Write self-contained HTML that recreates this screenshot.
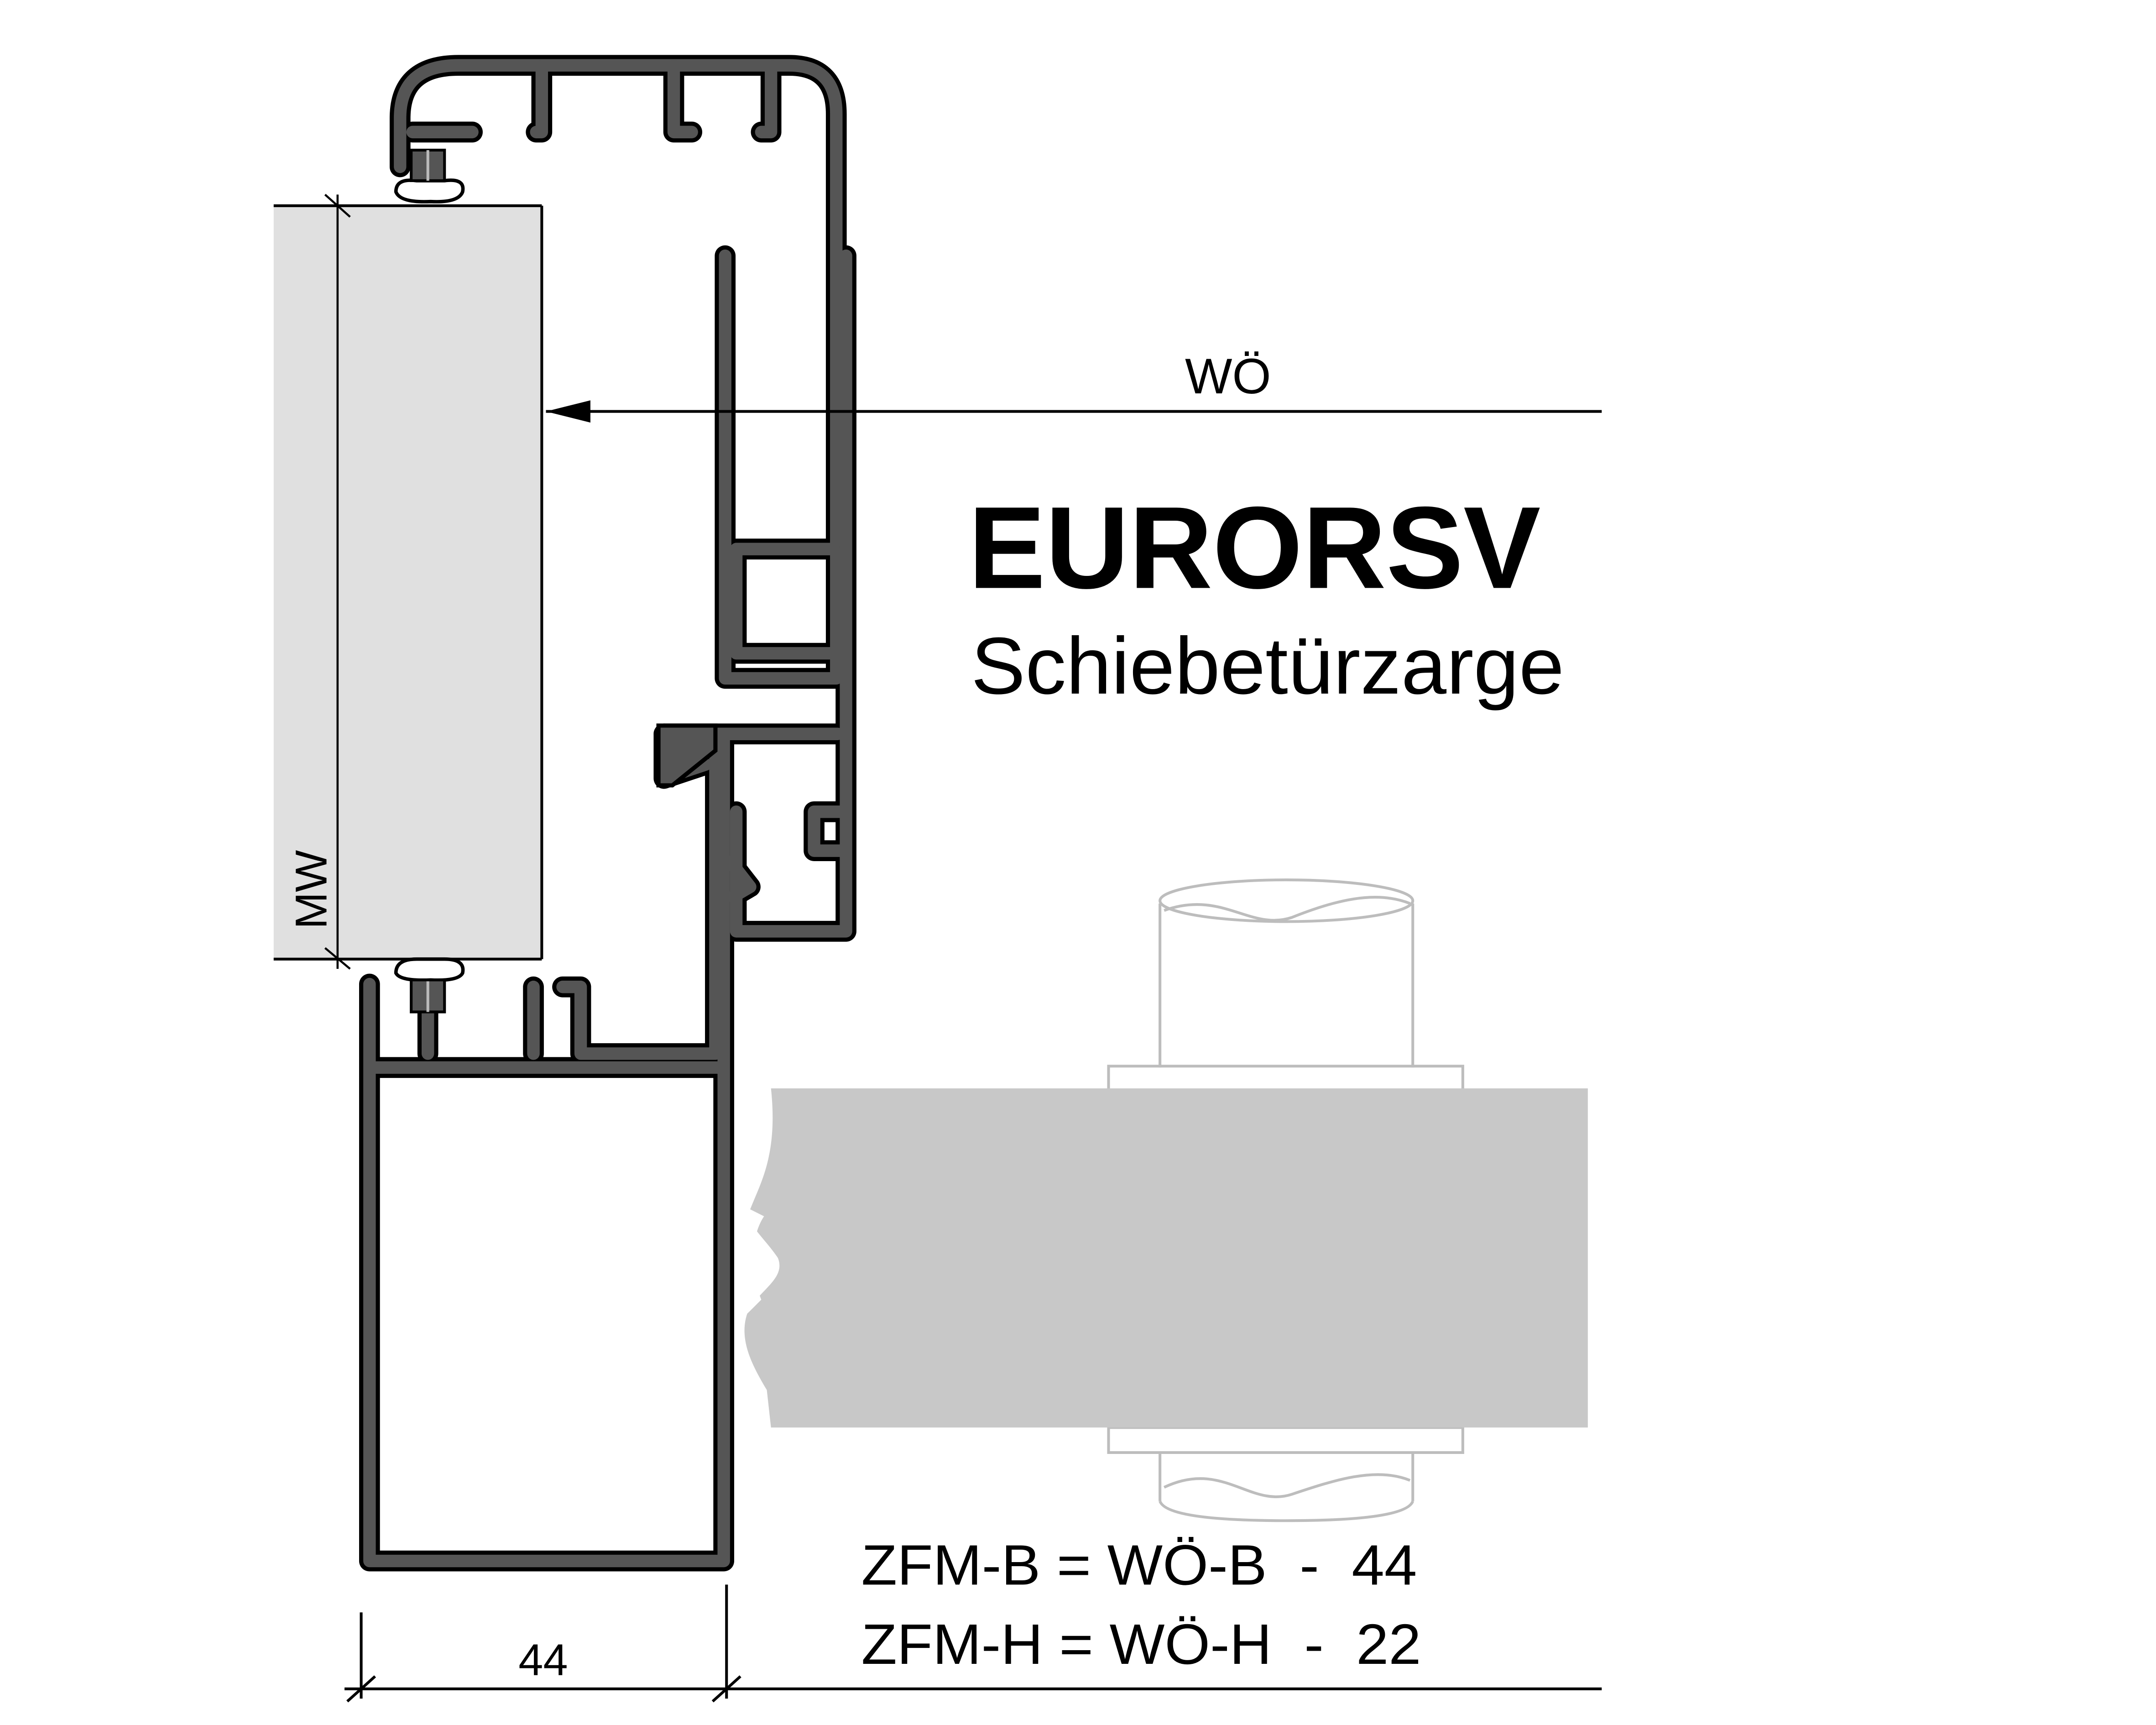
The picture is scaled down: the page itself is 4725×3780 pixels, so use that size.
<!DOCTYPE html>
<html><head><meta charset="utf-8"><style>
html,body{margin:0;padding:0;background:#fff;}
svg{display:block;}
text{font-family:"Liberation Sans",sans-serif;fill:#000;white-space:pre;}
</style></head><body>
<svg width="4725" height="3780" viewBox="0 0 1552 1241" preserveAspectRatio="none">
<rect width="1552" height="1241" fill="#fff"/>
<g fill="none" stroke="#bdbdbd" stroke-width="2">
<path d="M835,650 L835,768 M1017,650 L1017,768"/>
<ellipse cx="926" cy="648" rx="91" ry="15"/>
<path d="M838,655 C880,640 900,670 930,660 C960,648 990,640 1015,650"/>
<rect x="798" y="767" width="255" height="17"/>
<rect x="798" y="1027" width="255" height="18"/>
<path d="M835,1045 L835,1080 M1017,1045 L1017,1080"/>
<path d="M835,1080 Q840,1094 926,1094 Q1012,1094 1017,1080"/>
<path d="M838,1070 C880,1050 900,1085 930,1075 C960,1065 990,1055 1015,1065"/>
</g>
<path d="M555,783 L1143,783 L1143,1027 L555,1027 L552,1000 C540,980 530,960 540,940 C552,925 565,918 560,905 C550,890 536,880 540,870 C548,850 560,830 555,783 Z" fill="#c8c8c8"/>
<path d="M540,870 C528,880 525,930 538,945 L548,935 C540,915 540,890 550,875 Z" fill="#fff"/>
<rect x="197" y="148" width="193" height="542" fill="#e0e0e0"/>
<path d="M390,148 L390,690 M197,148 L390,148 M197,690 L390,690" stroke="#000" stroke-width="2" fill="none"/>
<path d="M243,140 L243,697 M234,140 L252,156 M234,682 L252,697" stroke="#000" stroke-width="1.5" fill="none"/>
<text x="235" y="640" font-size="32" transform="rotate(-90 235 640)" text-anchor="middle">MW</text>
<defs>
<path id="p1" d="M288,120 L288,85 Q288,47 330,47 L568,47 Q602,47 602,82 L602,488 L522,488 L522,184"/>
<path id="p2" d="M609,184 L609,670 L530,670 L530,584 M609,584 L586,584 L586,612 L609,612"/>
<path id="p3" d="M297,95 L340,95 M390,48 L390,95 L386,95 M485,48 L485,95 L498,95 M555,48 L555,95 L548,95"/>
<path id="p4" d="M478,528 L603,528 M515,528 L515,758 L418,758 L418,710 L405,710 M266,708 L266,1123 L521,1123 L521,528 M266,768 L521,768 M384,710 L384,758 M308,758 L308,712"/>
<path id="p5" d="M530,395 L530,470 L600,470 M530,395 L600,395 M478,528 L478,560 L508,550 M526,620 L540,638 L528,645"/>
</defs>
<g fill="none" stroke="#000" stroke-width="15" stroke-linejoin="round" stroke-linecap="round">
<use href="#p1"/><use href="#p2"/><use href="#p3"/><use href="#p4"/><use href="#p5"/>
</g>
<g fill="none" stroke="#555" stroke-width="9" stroke-linejoin="round" stroke-linecap="round">
<use href="#p1"/><use href="#p2"/><use href="#p3"/><use href="#p4"/><use href="#p5"/>
</g>
<path d="M474,522 L515,522 L515,540 L484,565 L474,565 Z" fill="#555" stroke="#000" stroke-width="3"/>
<g stroke="#000" stroke-width="2.5" fill="#fff">
<path d="M285,138 Q285,128 300,130 L320,130 Q335,128 333,138 Q330,146 310,145 Q288,146 285,138 Z"/>
<path d="M285,700 Q285,690 300,690 L320,690 Q335,690 333,700 Q330,706 310,705 Q288,706 285,700 Z"/>
</g>
<g fill="#555" stroke="#000" stroke-width="2">
<path d="M296,108 L320,108 L320,130 L296,130 Z"/>
<path d="M296,705 L320,705 L320,728 L296,728 Z"/>
</g>
<path d="M308,108 L308,130 M308,706 L308,728" stroke="#bbb" stroke-width="2"/>
<line x1="393" y1="296" x2="1153" y2="296" stroke="#000" stroke-width="2"/>
<path d="M393,296 L425,288 L425,304 Z" fill="#000"/>
<text x="884" y="283" font-size="36" text-anchor="middle">WÖ</text>
<text x="697" y="423" font-size="84" font-weight="bold" textLength="412" lengthAdjust="spacingAndGlyphs">EURORSV</text>
<text x="699" y="499" font-size="58" textLength="427" lengthAdjust="spacingAndGlyphs">Schiebetürzarge</text>
<text x="620" y="1140" font-size="41" textLength="400" lengthAdjust="spacingAndGlyphs">ZFM-B = WÖ-B  -  44</text>
<text x="620" y="1197" font-size="41" textLength="403" lengthAdjust="spacingAndGlyphs">ZFM-H = WÖ-H  -  22</text>
<g stroke="#000" stroke-width="2" fill="none">
<line x1="248" y1="1215" x2="1153" y2="1215"/>
<line x1="260" y1="1160" x2="260" y2="1222"/>
<line x1="523" y1="1140" x2="523" y2="1222"/>
<line x1="250" y1="1224" x2="270" y2="1206"/>
<line x1="513" y1="1224" x2="533" y2="1206"/>
</g>
<text x="391" y="1205" font-size="32" text-anchor="middle">44</text>
</svg>
</body></html>
